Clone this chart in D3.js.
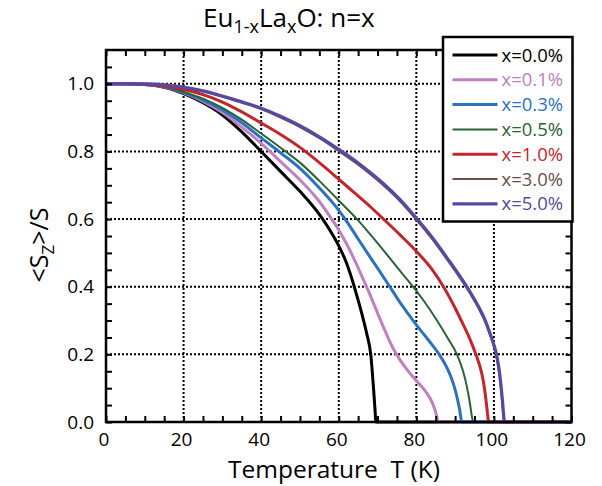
<!DOCTYPE html>
<html>
<head>
<meta charset="utf-8">
<script src="https://cdn.jsdelivr.net/npm/d3@7"></script>
<style>
  body { margin: 0; background: #fff; }
  text { font-family: "Open Sans", "Noto Sans", sans-serif; }
</style>
</head>
<body>
<svg id="chart" width="602" height="486"></svg>
<script>
// Reduced magnetization <Sz>/S versus temperature for Eu(1-x)La(x)O, n = x
const seriesLabels = ["x=0.0%", "x=0.1%", "x=0.3%", "x=0.5%", "x=1.0%", "x=3.0%", "x=5.0%"];

// [temperature (K), <Sz>/S]
const mag00 = [[0,1],[5,1],[10,0.998],[15,0.99],[20,0.971],[25,0.944],[30,0.908],[35,0.858],[40,0.80],
  [45,0.741],[50,0.682],[55,0.614],[58,0.562],[60,0.521],[62,0.47],[64,0.40],[65,0.36],[66,0.318],
  [67.2,0.262],[68.3,0.195],[68.9,0.11],[69.3,0.045],[69.6,0],[120,0]];
const mag01 = [[0,1],[5,1],[10,0.998],[15,0.991],[20,0.973],[25,0.948],[30,0.915],[35,0.872],[40,0.824],
  [45,0.77],[50,0.716],[55,0.652],[58,0.603],[60,0.568],[62,0.527],[64,0.481],[66,0.43],[68,0.378],
  [70,0.322],[72,0.268],[74,0.218],[76,0.18],[78,0.149],[80,0.122],[82,0.096],[83.5,0.071],
  [84.5,0.046],[85.2,0.02],[85.6,0],[120,0]];
const mag03 = [[0,1],[5,1],[10,0.998],[15,0.991],[20,0.974],[25,0.952],[30,0.923],[35,0.885],[40,0.84],
  [45,0.796],[50,0.75],[55,0.692],[60,0.626],[62,0.594],[65,0.541],[68,0.489],[70,0.455],[73,0.403],
  [76,0.35],[78,0.318],[80,0.287],[83,0.244],[86,0.198],[88,0.158],[89.5,0.115],[90.5,0.073],
  [91.2,0.035],[91.7,0],[120,0]];
const mag05 = [[0,1],[5,1],[10,0.998],[15,0.992],[20,0.976],[25,0.956],[30,0.929],[35,0.894],[40,0.853],
  [45,0.811],[50,0.767],[55,0.713],[60,0.655],[65,0.596],[68,0.556],[72,0.501],[76,0.444],[79.5,0.395],
  [82,0.357],[85,0.306],[88,0.25],[90.5,0.199],[92,0.152],[93,0.106],[93.8,0.057],[94.3,0.018],
  [94.7,0],[120,0]];
const mag10 = [[0,1],[5,1],[10,0.999],[15,0.993],[20,0.983],[25,0.968],[30,0.946],[35,0.917],[40,0.884],
  [45,0.85],[50,0.812],[55,0.767],[60,0.718],[64,0.678],[68,0.638],[72,0.595],[76,0.551],[80,0.505],
  [84,0.452],[87,0.40],[90,0.337],[92,0.29],[94,0.24],[95.5,0.195],[96.5,0.16],[97.2,0.125],
  [97.8,0.08],[98.2,0.04],[98.5,0.01],[98.6,0],[120,0]];
const mag30 = [[0,1],[5,1],[10,0.999],[15,0.996],[20,0.988],[25,0.977],[30,0.962],[35,0.944],[40,0.925],
  [45,0.9],[50,0.872],[55,0.839],[60,0.801],[65,0.761],[70,0.715],[75,0.662],[80,0.598],[84,0.542],
  [88,0.479],[91,0.43],[94,0.377],[96,0.337],[97.7,0.297],[99,0.257],[100,0.222],[100.6,0.194],
  [101.3,0.146],[101.8,0.098],[102.2,0.048],[102.5,0.01],[102.6,0],[120,0]];
const mag50 = [[0,1],[5,1],[10,1],[15,0.997],[20,0.99],[25,0.979],[30,0.964],[35,0.947],[40,0.928],
  [45,0.904],[50,0.876],[55,0.843],[60,0.806],[65,0.766],[70,0.72],[75,0.667],[80,0.603],[84,0.547],
  [88,0.484],[91,0.435],[94,0.382],[96,0.342],[97.7,0.302],[99,0.262],[100,0.228],[100.7,0.198],
  [101.4,0.15],[101.9,0.1],[102.3,0.05],[102.6,0.01],[102.8,0],[120,0]];

const seriesData = [mag00, mag01, mag03, mag05, mag10, mag30, mag50];

const tempTicks = [0, 20, 40, 60, 80, 100, 120];
const magTicks = [0.0, 0.2, 0.4, 0.6, 0.8, 1.0];

// drawing styles, one per series
const colors = ["#000000", "#c080c0", "#2c72bf", "#2c6238", "#c2262d", "#6b5049", "#5a48a0"];
const widths = [3, 3, 3, 2, 3, 2, 3.2];

const svg = d3.select("#chart");
const x = d3.scaleLinear().domain([0, 120]).range([106, 571.5]);
const y = d3.scaleLinear().domain([0, 1.1]).range([422, 50]);

// dotted grid at the labelled ticks
const grid = svg.append("g").attr("stroke", "#000").attr("stroke-width", 2)
  .attr("stroke-dasharray", "2,2");
grid.selectAll("line.v").data(tempTicks.slice(1, -1)).join("line").attr("class", "v")
  .attr("x1", d => x(d)).attr("x2", d => x(d)).attr("y1", y(0)).attr("y2", y(1.1));
grid.selectAll("line.h").data(magTicks.slice(1)).join("line").attr("class", "h")
  .attr("x1", x(0)).attr("x2", x(120)).attr("y1", d => y(d)).attr("y2", d => y(d));

// curves
const line = d3.line().x(d => x(d[0])).y(d => y(d[1])).curve(d3.curveMonotoneX);
svg.append("g").attr("fill", "none").selectAll("path").data(seriesData).join("path")
  .attr("d", line)
  .attr("stroke", (d, i) => colors[i])
  .attr("stroke-width", (d, i) => widths[i])
  .attr("stroke-linejoin", "round");

// inward ticks on all four sides
const minorT = d3.range(0, 120.01, 5);
const minorM = d3.range(0, 22).map(i => i * 0.05);
function styleAxis(g) {
  g.select(".domain").remove();
  g.selectAll(".tick line").attr("stroke", "#000").attr("stroke-width", 2);
  g.selectAll(".tick text").remove();
}
svg.append("g").attr("transform", `translate(0,${y(0)})`)
  .call(d3.axisBottom(x).tickValues(minorT).tickSize(-6)).call(styleAxis);
svg.append("g").attr("transform", `translate(0,${y(1.1)})`)
  .call(d3.axisTop(x).tickValues(minorT).tickSize(-6)).call(styleAxis);
svg.append("g").attr("transform", `translate(${x(0)},0)`)
  .call(d3.axisLeft(y).tickValues(minorM).tickSize(-6)).call(styleAxis);
svg.append("g").attr("transform", `translate(${x(120)},0)`)
  .call(d3.axisRight(y).tickValues(minorM).tickSize(-6)).call(styleAxis);

// frame
svg.append("rect").attr("x", x(0)).attr("y", y(1.1))
  .attr("width", x(120) - x(0)).attr("height", y(0) - y(1.1))
  .attr("fill", "none").attr("stroke", "#000").attr("stroke-width", 2.5);

// tick labels
svg.append("g").selectAll("text").data(tempTicks).join("text")
  .attr("x", d => x(d) - 2).attr("y", 446).attr("text-anchor", "middle")
  .attr("font-size", 19).text(d => d);
svg.append("g").selectAll("text").data(magTicks).join("text")
  .attr("x", 94).attr("y", d => y(d) + 6.5).attr("text-anchor", "end")
  .attr("font-size", 19).text(d => d.toFixed(1));

// axis titles
svg.append("text").attr("x", 228).attr("y", 478).attr("font-size", 24.5)
  .attr("xml:space", "preserve").style("white-space", "pre")
  .text("Temperature  T (K)");

const yl = svg.append("text").attr("transform", "translate(48,245) rotate(-90)")
  .attr("text-anchor", "middle").attr("font-size", 25);
yl.append("tspan").text("<S");
yl.append("tspan").attr("font-size", 17).attr("dy", 6).text("Z");
yl.append("tspan").attr("dy", -6).text(">/S");

// title
const tt = svg.append("text").attr("x", 203).attr("y", 27).attr("font-size", 26);
tt.append("tspan").text("Eu");
tt.append("tspan").attr("font-size", 18).attr("dy", 6).text("1-x");
tt.append("tspan").attr("dy", -6).text("La");
tt.append("tspan").attr("font-size", 18).attr("dy", 6).text("x");
tt.append("tspan").attr("dy", -6).text("O: n=x");

// legend
const lg = svg.append("g");
lg.append("rect").attr("x", 443).attr("y", 37).attr("width", 129.5).attr("height", 184.5)
  .attr("fill", "#fff").attr("stroke", "#000").attr("stroke-width", 2.5);
const rows = lg.selectAll("g.row").data(seriesLabels).join("g").attr("class", "row")
  .attr("transform", (d, i) => `translate(0,${55 + i * 24.8})`);
rows.append("line").attr("x1", 452.5).attr("x2", 497.5).attr("y1", 0).attr("y2", 0)
  .attr("stroke", (d, i) => colors[i]).attr("stroke-width", (d, i) => widths[i]);
rows.append("text").attr("x", 501.5).attr("y", 6.5).attr("font-size", 18.5)
  .attr("fill", (d, i) => colors[i]).text(d => d);
</script>
</body>
</html>
